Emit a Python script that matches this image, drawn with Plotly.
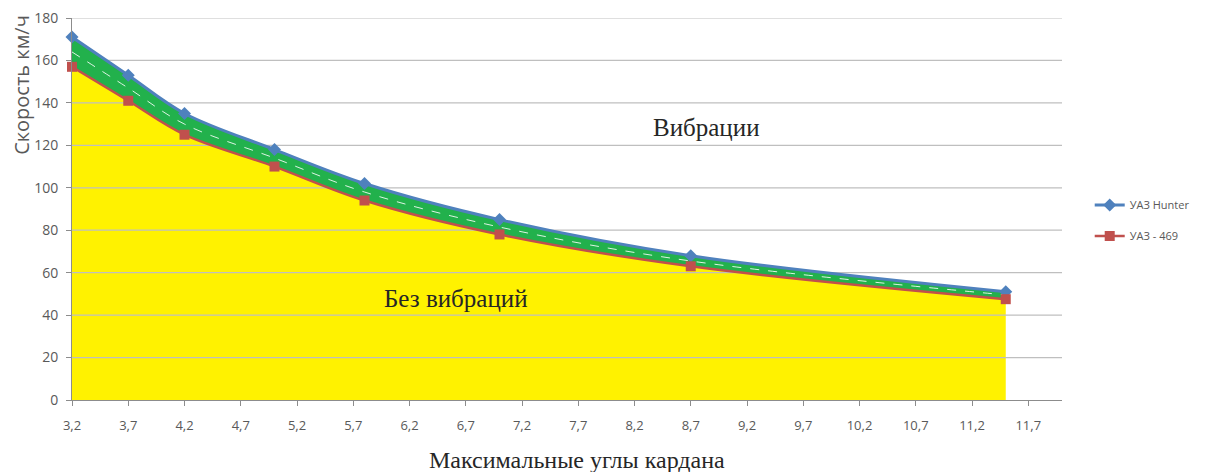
import plotly.graph_objects as go

# ---- data ----
angles = [3.2, 3.7, 4.2, 5.0, 5.8, 7.0, 8.7, 11.5]
speed_hunter = [171, 153, 135, 118, 102, 85, 68, 51]
speed_469 = [157, 141, 125, 110, 94, 78, 63, 47.5]
speed_mid = [164, 147, 130, 114, 98, 81.5, 65.5, 49.5]
y_ticks = [0, 20, 40, 60, 80, 100, 120, 140, 160, 180]
x_range = [3.2, 12.0]
name_hunter = "УАЗ Hunter"
name_469 = "УАЗ - 469"

BLUE = "#4F81BD"
RED = "#C0504D"
YELLOW = "#FFF200"
GREEN = "#22B14C"
GRID = "#BFBFBF"
TXT = "#595959"

fig = go.Figure()

# yellow area under UAZ-469 curve
fig.add_trace(go.Scatter(x=angles, y=speed_469, mode="lines", line=dict(width=0, shape="spline", color=YELLOW),
                         fill="tozeroy", fillcolor=YELLOW, showlegend=False, hoverinfo="skip"))

# gridlines drawn above the yellow fill
gx, gy = [], []
for v in y_ticks[1:]:
    gx += [x_range[0], x_range[1], None]
    gy += [v, v, None]
fig.add_trace(go.Scatter(x=gx, y=gy, mode="lines", line=dict(color=GRID, width=1.2),
                         showlegend=False, hoverinfo="skip", cliponaxis=False))

# base for green band (invisible), then green band up to Hunter curve
fig.add_trace(go.Scatter(x=angles, y=speed_469, mode="lines", line=dict(width=0, shape="spline", color=GREEN),
                         showlegend=False, hoverinfo="skip"))
fig.add_trace(go.Scatter(x=angles, y=speed_hunter, mode="lines", line=dict(width=0, shape="spline", color=GREEN),
                         fill="tonexty", fillcolor=GREEN, showlegend=False, hoverinfo="skip"))

# white dashed line in the middle of the band
fig.add_trace(go.Scatter(x=angles, y=speed_mid, mode="lines",
                         line=dict(width=1, shape="spline", color="rgba(255,255,255,0.85)", dash="dash"),
                         showlegend=False, hoverinfo="skip"))

# main series
fig.add_trace(go.Scatter(x=angles, y=speed_hunter, mode="lines+markers", name=name_hunter,
                         line=dict(color=BLUE, width=3, shape="spline"),
                         marker=dict(symbol="diamond", size=10, color=BLUE),
                         legendgroup="a", cliponaxis=False))
fig.add_trace(go.Scatter(x=angles, y=speed_469, mode="lines+markers", name=name_469,
                         line=dict(color=RED, width=2.5, shape="spline"),
                         marker=dict(symbol="square", size=10, color=RED),
                         legendgroup="b", cliponaxis=False))

fig.add_annotation(x=8.84, y=128.6, text="Вибрации", showarrow=False,
                   font=dict(family="Liberation Serif", size=25, color="#262626"))
fig.add_annotation(x=6.61, y=48, text="Без вибраций", showarrow=False,
                   font=dict(family="Liberation Serif", size=25, color="#262626"))

# axis titles
fig.add_annotation(xref="paper", yref="paper", x=-0.0505, y=0.825, text="Скорость км/ч", textangle=-90,
                   showarrow=False, xanchor="center", yanchor="middle",
                   font=dict(family="Open Sans", size=20, color=TXT))
fig.add_annotation(xref="paper", yref="paper", x=0.51, y=-0.157, text="Максимальные углы кардана",
                   showarrow=False, xanchor="center", yanchor="middle",
                   font=dict(family="Liberation Serif", size=24, color="#262626"))

fig.update_layout(
    width=1208, height=472,
    margin=dict(l=72, r=146, t=18, b=72),
    paper_bgcolor="white", plot_bgcolor="white",
    separators=",.",
    showlegend=True,
    legend=dict(x=1.028, y=0.47, xanchor="left", yanchor="middle", tracegroupgap=12,
                font=dict(family="Open Sans", size=11, color=TXT), bgcolor="rgba(0,0,0,0)"),
    xaxis=dict(range=x_range, tick0=3.2, dtick=0.5, tickformat=".1f", showgrid=False, automargin=False,
               showline=True, linecolor="#8C8C8C", linewidth=1, ticks="outside", ticklen=5,
               tickcolor="#8C8C8C", ticklabelstandoff=8,
               tickfont=dict(family="Open Sans", size=13, color=TXT), zeroline=False),
    yaxis=dict(range=[0, 180], tickvals=y_ticks, showgrid=False, automargin=False,
               showline=True, linecolor="#8C8C8C", linewidth=1, ticks="outside", ticklen=5,
               tickcolor="#8C8C8C", ticklabelstandoff=5,
               tickfont=dict(family="Open Sans", size=14, color=TXT), zeroline=False),
)

fig.write_html("out.html", config={"displayModeBar": False},
               post_script="document.body.style.margin='0';document.body.style.overflow='hidden';")
